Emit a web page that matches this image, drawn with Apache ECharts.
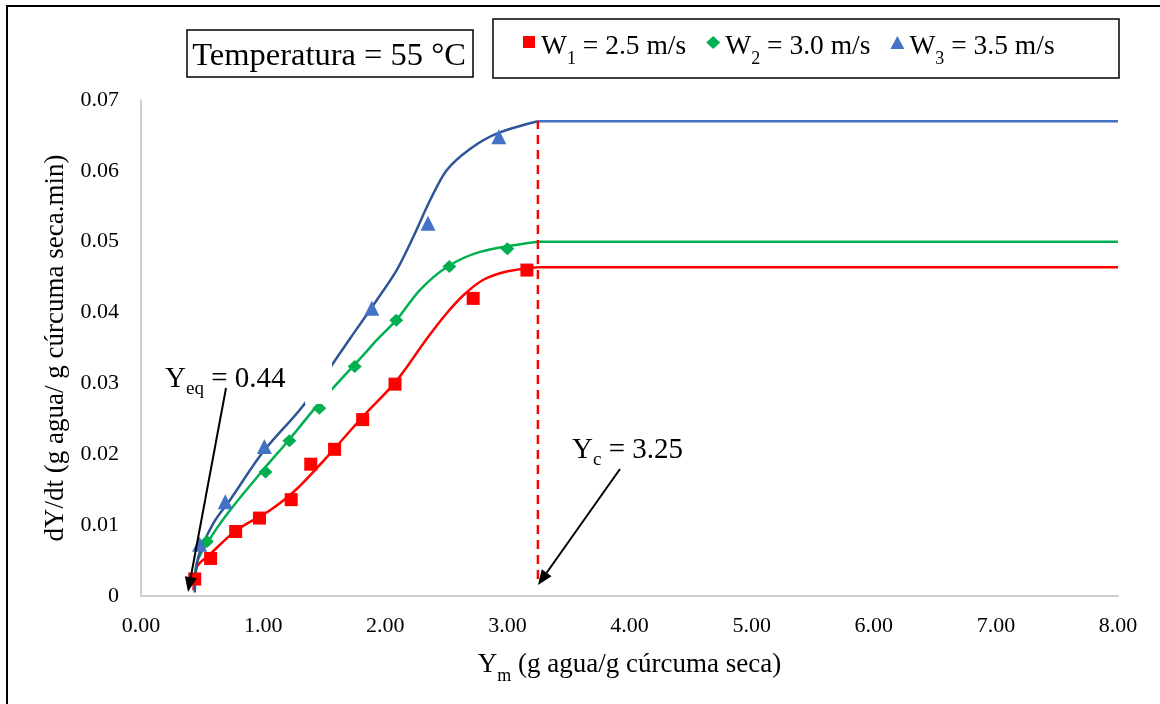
<!DOCTYPE html>
<html>
<head>
<meta charset="utf-8">
<script src="https://cdn.jsdelivr.net/npm/echarts@6/dist/echarts.min.js"></script>
<style>
  html, body { margin: 0; padding: 0; background: #fff; }
  #chart { width: 1160px; height: 704px; }
</style>
</head>
<body>
<div id="chart"></div>
<script>
const FONT = '"Liberation Serif", "Times New Roman", serif';

// Measured drying rate, W1 = 2.5 m/s
const w1X = [0.44, 0.57, 0.775, 0.97, 1.23, 1.39, 1.585, 1.815, 2.08, 2.72, 3.16];
const w1Y = [0.0024, 0.0053, 0.0091, 0.0110, 0.0136, 0.0186, 0.0207, 0.0249, 0.0299, 0.0420, 0.0460];
// Measured drying rate, W2 = 3.0 m/s
const w2X = [0.54, 1.02, 1.215, 1.46, 1.75, 2.09, 2.525, 3.0];
const w2Y = [0.0077, 0.0175, 0.0219, 0.0265, 0.0324, 0.0389, 0.0465, 0.0490];
// Measured drying rate, W3 = 3.5 m/s
const w3X = [0.48, 0.69, 1.01, 1.89, 2.35, 2.93];
const w3Y = [0.0073, 0.0133, 0.0211, 0.0406, 0.0526, 0.0648];

// Fitted falling-rate curves (up to the critical moisture Yc)
const fit1X = [0.43, 0.456, 0.565, 0.784, 1.057, 1.275, 1.548, 1.821, 2.094, 2.34, 2.503, 2.64, 2.80, 2.995, 3.25];
const fit1Y = [0.0008, 0.0041, 0.0059, 0.0093, 0.0121, 0.0151, 0.0201, 0.0254, 0.0304, 0.0363, 0.0399, 0.04245, 0.0446, 0.0458, 0.0464];
const fit2X = [0.44, 0.456, 0.565, 0.729, 1.0, 1.22, 1.439, 1.82, 1.93, 2.094, 2.285, 2.503, 2.776, 3.25];
const fit2Y = [0.0010, 0.0046, 0.0081, 0.0121, 0.0178, 0.0222, 0.0268, 0.0340, 0.0361, 0.0390, 0.0432, 0.0464, 0.04856, 0.0500];
const fit3X = [0.44, 0.469, 0.592, 0.729, 1.0, 1.329, 1.712, 1.93, 2.094, 2.23, 2.367, 2.503, 2.694, 2.913, 3.25];
const fit3Y = [0.0005, 0.0055, 0.01025, 0.01354, 0.02035, 0.0269, 0.03635, 0.04175, 0.046, 0.0507, 0.05585, 0.0601, 0.0631, 0.06526, 0.0670];

// Constant-rate period values
const plateauY = [0.0464, 0.0500, 0.0670];
const yc = 3.25;
const yeq = 0.44;
const xMaxValue = 8;
const dashBottom = 0.0024;

const seriesNames = ['W1', 'W2', 'W3'];
const speedLabels = ['2.5', '3.0', '3.5'];
const pointColors = ['#FF0000', '#00B050', '#4472C4'];
const curveColors = ['#FF0000', '#00B050', '#2F5597'];
const plateauColors = ['#FF0000', '#00B050', '#4472C4'];
const symbols = ['rect', 'diamond', 'triangle'];
const symbolSizes = [13, [14, 13], 15];
// legend icons sit in the upper part of a taller box so they ride above the text centre
const legendIcons = [
  'path://M1,0L13,0L13,12L1,12Z M0,22 M14,22',
  'path://M7,0L14,6.5L7,13L0,6.5Z M0,22 M14,22',
  'path://M7,0L14,13L0,13Z M0,22 M14,22'
];

const pairs = (xs, ys) => xs.map((x, i) => [x, ys[i]]);
const pointSets = [pairs(w1X, w1Y), pairs(w2X, w2Y), pairs(w3X, w3Y)];
const fitSets = [pairs(fit1X, fit1Y), pairs(fit2X, fit2Y), pairs(fit3X, fit3Y)];

const series = [];
fitSets.forEach((d, i) => {
  series.push({
    type: 'line', name: 'ajuste ' + seriesNames[i], data: d,
    smooth: 0.3, showSymbol: false, symbol: 'none',
    lineStyle: { color: curveColors[i], width: 2.5 }, z: 2, silent: true
  });
  series.push({
    type: 'line', name: 'constante ' + seriesNames[i],
    data: [[yc, plateauY[i]], [xMaxValue, plateauY[i]]],
    showSymbol: false, symbol: 'none',
    lineStyle: { color: plateauColors[i], width: 2.5 }, z: 2, silent: true
  });
});
series.push({
  type: 'line', name: 'Yc', data: [[yc, dashBottom], [yc, plateauY[2]]],
  showSymbol: false, symbol: 'none',
  lineStyle: { color: '#FF0000', width: 2.5, type: [9, 6] }, z: 3, silent: true
});
pointSets.forEach((d, i) => {
  series.push({
    type: 'scatter', name: seriesNames[i], data: d,
    symbol: symbols[i], symbolSize: symbolSizes[i],
    itemStyle: { color: pointColors[i], opacity: 1 }, z: 4
  });
});

function arrow(x1, y1, x2, y2) {
  const ang = Math.atan2(y2 - y1, x2 - x1);
  const len = 15, half = 6;
  const bx = x2 - len * Math.cos(ang), by = y2 - len * Math.sin(ang);
  const px = -Math.sin(ang) * half, py = Math.cos(ang) * half;
  return [
    { type: 'line', z: 60, silent: true, shape: { x1, y1, x2: bx, y2: by }, style: { stroke: '#000', lineWidth: 2 } },
    { type: 'polygon', z: 60, silent: true, shape: { points: [[x2, y2], [bx + px, by + py], [bx - px, by - py]] }, style: { fill: '#000' } }
  ];
}

const annRich = {
  a: { fontFamily: FONT, fontSize: 29, color: '#FF0000' },
  s: { fontFamily: FONT, fontSize: 19, color: '#FF0000', padding: [20, 0, 0, 0] }
};

const option = {
  animation: false,
  backgroundColor: '#fff',
  grid: { left: 141, right: 42, top: 100, bottom: 108 },
  xAxis: {
    type: 'value', min: 0, max: xMaxValue, interval: 1,
    name: '{a|Y}{s|m}{a| (g agua/g cúrcuma seca)}',
    nameLocation: 'middle', nameGap: 49,
    nameTextStyle: {
      rich: {
        a: { fontFamily: FONT, fontSize: 27, color: '#000' },
        s: { fontFamily: FONT, fontSize: 18, color: '#000', padding: [22, 0, 0, 0] }
      }
    },
    axisLine: { lineStyle: { color: '#BFBFBF', width: 1.5 } },
    axisTick: { show: false },
    splitLine: { show: false },
    axisLabel: { formatter: v => v.toFixed(2), fontFamily: FONT, fontSize: 22, color: '#000', margin: 19 }
  },
  yAxis: {
    type: 'value', min: 0, max: 0.07, interval: 0.01,
    name: 'dY/dt (g agua/ g cúrcuma seca.min)',
    nameLocation: 'middle', nameGap: 61,
    nameTextStyle: { fontFamily: FONT, fontSize: 27, color: '#000' },
    axisLine: { show: true, lineStyle: { color: '#BFBFBF', width: 1.5 } },
    axisTick: { show: false },
    splitLine: { show: false },
    axisLabel: { fontFamily: FONT, fontSize: 22, color: '#000', margin: 22 }
  },
  legend: {
    left: 517, top: 28, itemWidth: 14, itemHeight: 22, itemGap: 20,
    selectedMode: false,
    data: seriesNames.map((n, i) => ({ name: n, icon: legendIcons[i] })),
    formatter: n => {
      const i = seriesNames.indexOf(n);
      return '{w|W}{s|' + (i + 1) + '}{w| = ' + speedLabels[i] + ' m/s}';
    },
    textStyle: {
      rich: {
        w: { fontFamily: FONT, fontSize: 27.5, color: '#000' },
        s: { fontFamily: FONT, fontSize: 18, color: '#000', padding: [24, 0, 0, 0] }
      }
    }
  },
  graphic: [
    { type: 'rect', z: 0, silent: true, shape: { x: 7, y: 6, width: 1170, height: 720 }, style: { fill: 'none', stroke: '#000', lineWidth: 2 } },
    { type: 'rect', z: 0, silent: true, shape: { x: 187, y: 30, width: 286, height: 47 }, style: { fill: '#fff', stroke: '#000', lineWidth: 1.5 } },
    { type: 'text', z: 1, silent: true, x: 329, y: 56, style: { text: 'Temperatura = 55 °C', fontFamily: FONT, fontSize: 32.5, fill: '#000', align: 'center', verticalAlign: 'middle' } },
    { type: 'rect', z: 0, silent: true, shape: { x: 493, y: 19, width: 626, height: 59 }, style: { fill: 'none', stroke: '#000', lineWidth: 1.5 } },
    // blank text box lying over the curves
    { type: 'rect', z: 50, silent: true, shape: { x: 305, y: 358, width: 27, height: 46 }, style: { fill: '#fff' } },
    { type: 'text', z: 60, silent: true, x: 165, y: 360, style: { text: '{a|Y}{s|eq}{a| = ' + yeq.toFixed(2) + '}', rich: annRich } },
    { type: 'text', z: 60, silent: true, x: 572, y: 431, style: { text: '{a|Y}{s|c}{a| = ' + yc.toFixed(2) + '}', rich: annRich } },
    ...arrow(226, 388, 188, 592),
    ...arrow(620, 469, 538, 585)
  ],
  series
};

const chart = echarts.init(document.getElementById('chart'), null, { renderer: 'canvas' });
chart.setOption(option);
</script>
</body>
</html>
